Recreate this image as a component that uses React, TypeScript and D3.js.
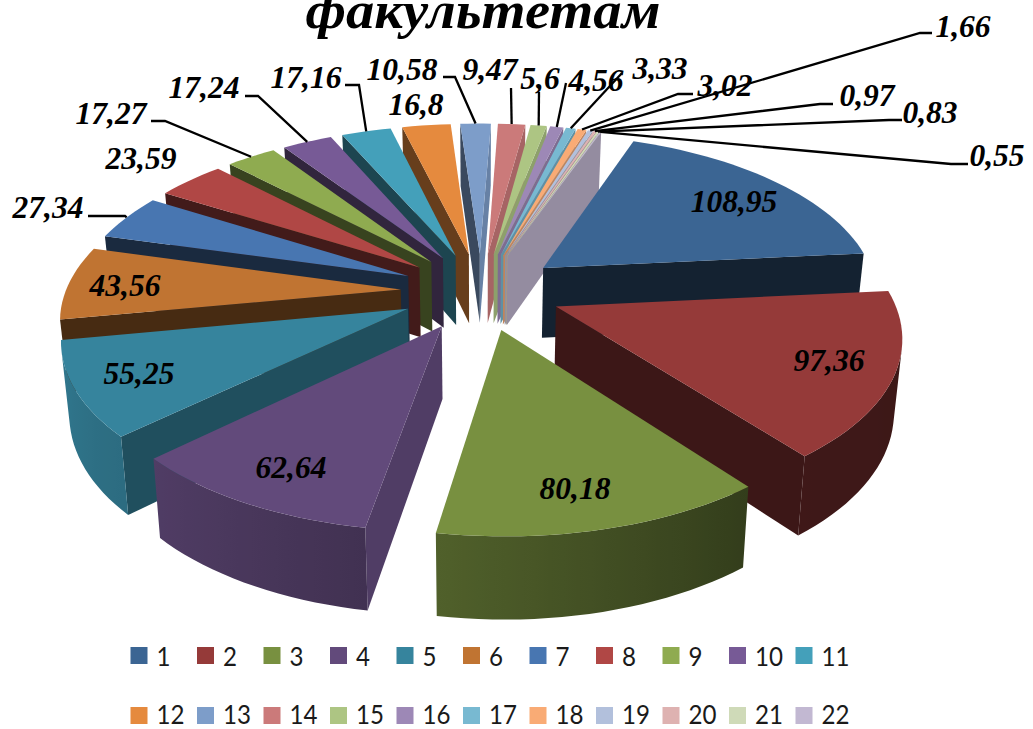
import React from "react";
import * as d3 from "d3";

const titleText = "факультетам";
const sliceNames = ["1","2","3","4","5","6","7","8","9","10","11","12","13","14","15","16","17","18","19","20","21","22"];
const sliceValues = [108.95,97.36,80.18,62.64,55.25,43.56,27.34,23.59,17.27,17.24,17.16,16.8,10.58,9.47,5.6,4.56,3.33,3.02,1.66,0.97,0.83,0.55];
const valueLabels = ["108,95","97,36","80,18","62,64","55,25","43,56","27,34","23,59","17,27","17,24","17,16","16,8","10,58","9,47","5,6","4,56","3,33","3,02","1,66","0,97","0,83","0,55"];
const sliceColors = ["#3b6593","#953a39","#789040","#624a7b","#36849d","#c07432","#4876b1","#b04745","#8fab50","#775a96","#44a0ba","#e58a3e","#7d9dc9","#cb7a7a","#adc583","#9d88b6","#78b9d1","#f9ab75","#b2c0dc","#deb2b1","#cfdab8","#c2b8d2"];

// label layout: text centre, optional leader start + elbow
const labelCentres: [number, number][] = [[734,201],[829,360],[575,488],[291,467],[139,373],[125,285],[48,207],[141,158],[111,113],[204,87],[306,77],[416,104],[402,69],[490,69],[540,78],[596,80],[660,68],[725,85],[963,26],[867,95],[930,112],[997,155]];
const leaderStarts: ([number, number, number] | null)[] = [null,null,null,null,null,null,[88,125,216],null,[151,165,121],[245,258,96],[345,359,85],null,[443,455,77],[511,511,88],[539,539,92],[566,566,83],[622,622,73],[693,678,94],[932,920,33],[833,820,104],[902,889,120],[968,951,164]];

const W = 1033, H = 729;
const cx = 481, cy = 291, A = 335, B = 161, T = 71, k = 0.155, E = 0.24;

function project(X: number, Y: number, z = 0): [number, number] {
  const w = 1 + k * Y;
  return [cx + (A * X / w) * (1 - 0.02 * z), cy - (B * Y) / w + (T * z) / Math.pow(w, 0.75)];
}

const cutShade = d3.scaleLinear().domain([100,137,175,232,256,340]).range([0.82,0.6,0.33,0.4,0.45,0.6]).clamp(true);
const wallShade = d3.scaleLinear().domain([85,142,190,227,260,300]).range([0.4,0.42,0.67,0.82,0.92,0.95]).clamp(true);
const shade = (c: string, f: number) => {
  const r = d3.rgb(c);
  return d3.rgb(r.r * f, r.g * f, r.b * f).formatHex();
};
const deg = (a: number) => (a * 180) / Math.PI;
const lineGen = d3.line();
const closed = (pts: [number, number][]) => lineGen(pts) + "Z";
const normDeg = (d: number) => ((d % 360) + 360) % 360;

const pieGen = d3.pie<number>().sort(null).startAngle((20 * Math.PI) / 180).endAngle((380 * Math.PI) / 180);
const arcs = pieGen(sliceValues);

const slices = arcs.map((a, i) => {
  const mid = (a.startAngle + a.endAngle) / 2;
  const ox = E * Math.sin(mid), oy = E * Math.cos(mid);
  const rim = (ang: number, z = 0) => project(ox + Math.sin(ang), oy + Math.cos(ang), z);
  const n = Math.max(2, Math.ceil(deg(a.endAngle - a.startAngle) / 2));
  const angs = d3.range(n + 1).map((j) => a.startAngle + ((a.endAngle - a.startAngle) * j) / n);
  const apex = project(ox, oy), apexB = project(ox, oy, 1);
  const top = closed([apex, ...angs.map((t) => rim(t))]);
  const c = sliceColors[i];
  const cutFace = (ang: number) => [apex, rim(ang), rim(ang, 1), apexB] as [number, number][];
  const startN = normDeg(deg(a.startAngle) - 90), endN = normDeg(deg(a.endAngle) + 90);
  const cuts: { d: string; fill: string }[] = [];
  const sq = cutFace(a.startAngle), eq = cutFace(a.endAngle);
  if (d3.polygonArea(sq) > 0) cuts.push({ d: closed(sq), fill: shade(c, cutShade(startN)) });
  if (d3.polygonArea(eq) < 0) cuts.push({ d: closed(eq), fill: shade(c, cutShade(endN)) });
  // outer wall: only the arc steps that face the viewer
  const visible = angs.filter((t, j) => {
    const t2 = angs[Math.min(j + 1, n)], t1 = angs[Math.max(j - 1, 0)];
    return d3.polygonArea([rim(t1), rim(t2), rim(t2, 1), rim(t1, 1)]) > 0;
  });
  let wall: { d: string; x1: number; x2: number; stops: { off: number; col: string }[] } | null = null;
  if (visible.length >= 2) {
    const pts = [...visible.map((t) => rim(t)), ...visible.slice().reverse().map((t) => rim(t, 1))];
    const xs = visible.map((t) => rim(t)[0]);
    const [x1, x2] = d3.extent(xs) as [number, number];
    const stops = d3.sort(visible.map((t) => ({
      off: (rim(t)[0] - x1) / Math.max(1, x2 - x1),
      col: shade(c, wallShade(normDeg(deg(t)))),
    })), (s) => s.off);
    wall = { d: closed(pts), x1, x2, stops };
  }
  return { i, depth: oy + Math.cos(mid), top, cuts, wall, fill: c, outerMid: rim(mid) };
});
const paintOrder = d3.sort(slices, (a, b) => d3.descending(a.depth, b.depth));

const legendRows = [sliceNames.slice(0, 11), sliceNames.slice(11)];
const legendX = d3.scaleLinear().domain([0, 10]).range([130.5, 795.5]);
const legendY = [647, 707];
const legendBase = [666, 724];
const serif = "'Liberation Serif', serif";

export default function App() {
  return (
    <svg width={W} height={H} viewBox={`0 0 ${W} ${H}`} style={{ position: "absolute", left: 0, top: 0, background: "#fff" }}>
      <defs>
        {slices.map((s) => s.wall && (
          <linearGradient key={s.i} id={`wall${s.i}`} gradientUnits="userSpaceOnUse" x1={s.wall.x1} x2={s.wall.x2} y1={0} y2={0}>
            {s.wall.stops.map((st, j) => <stop key={j} offset={st.off} stopColor={st.col} />)}
          </linearGradient>
        ))}
      </defs>
      <text x={483} y={28} textAnchor="middle" fontFamily={serif} fontWeight="bold" fontStyle="italic" fontSize={52} textLength={355} lengthAdjust="spacingAndGlyphs" fill="#000">{titleText}</text>
      {paintOrder.map((s) => (
        <g key={s.i}>
          {s.cuts.map((f, j) => <path key={j} d={f.d} fill={f.fill} />)}
          {s.wall && <path d={s.wall.d} fill={`url(#wall${s.i})`} />}
          <path d={s.top} fill={s.fill} />
        </g>
      ))}
      {leaderStarts.map((l, i) => {
        if (!l) return null;
        const end = slices[i].outerMid;
        const y = l[2];
        return <polyline key={i} points={`${l[0]},${y} ${l[1]},${y} ${end[0]},${end[1]}`} fill="none" stroke="#000" strokeWidth={2.3} />;
      })}
      {valueLabels.map((t, i) => (
        <text key={i} x={labelCentres[i][0]} y={labelCentres[i][1]} dy="0.34em" textAnchor="middle" fontFamily={serif} fontWeight="bold" fontStyle="italic" fontSize={31.5} fill="#000">{t}</text>
      ))}
      {legendRows.map((row, r) => row.map((name, j) => {
        const idx = r === 0 ? j : j + 11;
        const x = legendX(j), y = legendY[r];
        return (
          <g key={name}>
            <rect x={x} y={y} width={17} height={17} fill={sliceColors[idx]} />
            <text x={x + 26} y={legendBase[r]} fontFamily="Lato, sans-serif" fontSize={26.5} fill="#1a1a1a" textLength={name.length * 14} lengthAdjust="spacingAndGlyphs">{name}</text>
          </g>
        );
      }))}
    </svg>
  );
}
